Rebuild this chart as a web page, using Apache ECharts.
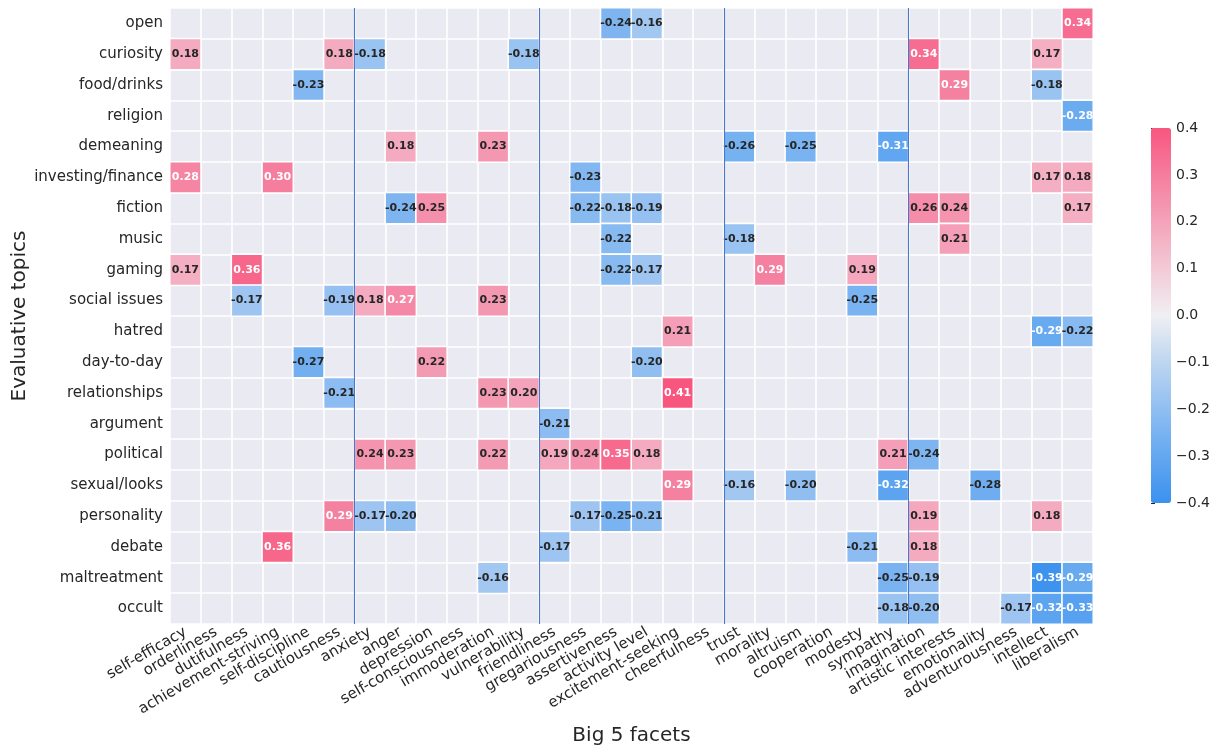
<!DOCTYPE html>
<html>
<head>
<meta charset="utf-8">
<script src="https://cdn.jsdelivr.net/npm/echarts@6/dist/echarts.min.js"></script>
<style>
html,body{margin:0;padding:0;background:#fff;}
#chart{width:1216px;height:747px;}
</style>
</head>
<body>
<div id="chart"></div>
<script>
// ---- categories ----
const facets = ['self-efficacy','orderliness','dutifulness','achievement-striving','self-discipline','cautiousness',
  'anxiety','anger','depression','self-consciousness','immoderation','vulnerability',
  'friendliness','gregariousness','assertiveness','activity level','excitement-seeking','cheerfulness',
  'trust','morality','altruism','cooperation','modesty','sympathy',
  'imagination','artistic interests','emotionality','adventurousness','intellect','liberalism'];
const topics = ['open','curiosity','food/drinks','religion','demeaning','investing/finance','fiction','music',
  'gaming','social issues','hatred','day-to-day','relationships','argument','political','sexual/looks',
  'personality','debate','maltreatment','occult'];
const colorbarTicks = [-0.4,-0.3,-0.2,-0.1,0,0.1,0.2,0.3,0.4];

// ---- values per topic (30 facets each, null = blank) ----
const _ = null;
const open          = [_,_,_,_,_,_,  _,_,_,_,_,_,  _,_,-0.24,-0.16,_,_,  _,_,_,_,_,_,  _,_,_,_,_,0.34];
const curiosity     = [0.18,_,_,_,_,0.18,  -0.18,_,_,_,_,-0.18,  _,_,_,_,_,_,  _,_,_,_,_,_,  0.34,_,_,_,0.17,_];
const foodDrinks    = [_,_,_,_,-0.23,_,  _,_,_,_,_,_,  _,_,_,_,_,_,  _,_,_,_,_,_,  _,0.29,_,_,-0.18,_];
const religion      = [_,_,_,_,_,_,  _,_,_,_,_,_,  _,_,_,_,_,_,  _,_,_,_,_,_,  _,_,_,_,_,-0.284];
const demeaning     = [_,_,_,_,_,_,  _,0.18,_,_,0.23,_,  _,_,_,_,_,_,  -0.26,_,-0.25,_,_,-0.31,  _,_,_,_,_,_];
const investing     = [0.28,_,_,0.30,_,_,  _,_,_,_,_,_,  _,-0.23,_,_,_,_,  _,_,_,_,_,_,  _,_,_,_,0.17,0.18];
const fiction       = [_,_,_,_,_,_,  _,-0.24,0.25,_,_,_,  _,-0.22,-0.18,-0.19,_,_,  _,_,_,_,_,_,  0.26,0.24,_,_,_,0.17];
const music         = [_,_,_,_,_,_,  _,_,_,_,_,_,  _,_,-0.22,_,_,_,  -0.18,_,_,_,_,_,  _,0.21,_,_,_,_];
const gaming        = [0.17,_,0.36,_,_,_,  _,_,_,_,_,_,  _,_,-0.22,-0.17,_,_,  _,0.29,_,_,0.19,_,  _,_,_,_,_,_];
const socialIssues  = [_,_,-0.17,_,_,-0.19,  0.18,0.27,_,_,0.23,_,  _,_,_,_,_,_,  _,_,_,_,-0.25,_,  _,_,_,_,_,_];
const hatred        = [_,_,_,_,_,_,  _,_,_,_,_,_,  _,_,_,_,0.21,_,  _,_,_,_,_,_,  _,_,_,_,-0.29,-0.22];
const dayToDay      = [_,_,_,_,-0.27,_,  _,_,0.22,_,_,_,  _,_,_,-0.20,_,_,  _,_,_,_,_,_,  _,_,_,_,_,_];
const relationships = [_,_,_,_,_,-0.21,  _,_,_,_,0.23,0.20,  _,_,_,_,0.41,_,  _,_,_,_,_,_,  _,_,_,_,_,_];
const argument      = [_,_,_,_,_,_,  _,_,_,_,_,_,  -0.21,_,_,_,_,_,  _,_,_,_,_,_,  _,_,_,_,_,_];
const political     = [_,_,_,_,_,_,  0.24,0.23,_,_,0.22,_,  0.19,0.24,0.35,0.18,_,_,  _,_,_,_,_,0.21,  -0.24,_,_,_,_,_];
const sexualLooks   = [_,_,_,_,_,_,  _,_,_,_,_,_,  _,_,_,_,0.29,_,  -0.16,_,-0.20,_,_,-0.32,  _,_,-0.276,_,_,_];
const personality   = [_,_,_,_,_,0.29,  -0.17,-0.20,_,_,_,_,  _,-0.17,-0.25,-0.21,_,_,  _,_,_,_,_,_,  0.19,_,_,_,0.18,_];
const debate        = [_,_,_,0.36,_,_,  _,_,_,_,_,_,  -0.17,_,_,_,_,_,  _,_,_,_,-0.21,_,  0.18,_,_,_,_,_];
const maltreatment  = [_,_,_,_,_,_,  _,_,_,_,-0.16,_,  _,_,_,_,_,_,  _,_,_,_,_,-0.25,  -0.19,_,_,_,-0.39,-0.29];
const occult        = [_,_,_,_,_,_,  _,_,_,_,_,_,  _,_,_,_,_,_,  _,_,_,_,_,-0.18,  -0.20,_,_,-0.17,-0.32,-0.33];

const rows = [open,curiosity,foodDrinks,religion,demeaning,investing,fiction,music,gaming,socialIssues,
  hatred,dayToDay,relationships,argument,political,sexualLooks,personality,debate,maltreatment,occult];
const groupBoundaries = [6,12,18,24];

// ---- build heatmap data ----
const heatData = [];
rows.forEach((row, r) => {
  row.forEach((v, c) => {
    if (v === null) return;
    const light = (v >= 0.265 || v <= -0.28);
    heatData.push({ value: [c, r, v], label: { color: light ? '#ffffff' : '#262626' } });
  });
});

const FONT = 'DejaVu Sans';
const TXT = '#262626';
const chart = echarts.init(document.getElementById('chart'), null, { renderer: 'canvas' });
chart.setOption({
  backgroundColor: '#ffffff',
  animation: false,
  textStyle: { fontFamily: FONT },
  grid: [
    { left: 170, top: 8, width: 923, height: 616, show: true, backgroundColor: '#eaeaf2', borderWidth: 0,
      containLabel: false, outerBoundsMode: 'none' },
    { left: 1151, top: 128, width: 20, height: 375, show: false, containLabel: false, outerBoundsMode: 'none' }
  ],
  xAxis: [
    {
      type: 'category', data: facets, gridIndex: 0,
      axisLine: { show: false }, axisTick: { show: false },
      axisLabel: { interval: 0, rotate: 30, fontSize: 15, color: TXT, fontFamily: FONT, margin: 7 },
      splitLine: { show: true, interval: 0, lineStyle: { color: '#ffffff', width: 1.6 } },
      name: 'Big 5 facets', nameLocation: 'middle', nameGap: 102, nameMoveOverlap: false,
      nameTextStyle: { fontSize: 20, color: TXT, fontFamily: FONT }
    },
    { type: 'value', gridIndex: 0, min: 0, max: facets.length, show: false },
    { type: 'value', gridIndex: 1, min: 0, max: 1, show: false }
  ],
  yAxis: [
    {
      type: 'category', data: topics, inverse: true, gridIndex: 0,
      axisLine: { show: false }, axisTick: { show: false },
      axisLabel: { interval: 0, fontSize: 15, color: TXT, fontFamily: FONT, margin: 7 },
      splitLine: { show: true, interval: 0, lineStyle: { color: '#ffffff', width: 1.6 } },
      name: 'Evaluative topics', nameLocation: 'middle', nameGap: 140, nameMoveOverlap: false,
      nameTextStyle: { fontSize: 20, color: TXT, fontFamily: FONT }
    },
    {
      type: 'value', gridIndex: 1, min: -0.4, max: 0.4, interval: 0.1, position: 'right',
      axisLine: { show: false },
      axisTick: { show: true, length: 4, lineStyle: { color: TXT, width: 1 } },
      splitLine: { show: false },
      axisLabel: { fontSize: 14, color: TXT, fontFamily: FONT, margin: 5,
        formatter: v => (v < 0 ? '\u2212' : '') + Math.abs(v).toFixed(1) }
    }
  ],
  visualMap: {
    type: 'continuous', min: -0.4, max: 0.4, seriesIndex: 0, calculable: false,
    orient: 'vertical', left: 1151, top: 128, itemWidth: 20, itemHeight: 375, padding: 0,
    text: null, showLabel: false, hoverLink: false, indicatorSize: 0,
    inRange: { color: ['#3a91ef','#64a8f0','#90bef1','#bdd6f1','#f0eff2','#f3cad6','#f4a3ba','#f57d9d','#f8567f'] }
  },
  series: [
    {
      type: 'heatmap', xAxisIndex: 0, yAxisIndex: 0, data: heatData,
      itemStyle: { borderColor: '#ffffff', borderWidth: 1.6 },
      label: { show: true, fontSize: 11, fontWeight: 'bold', fontFamily: FONT,
        formatter: p => p.value[2].toFixed(2) },
      emphasis: { disabled: true }, silent: true
    },
    {
      type: 'scatter', xAxisIndex: 1, yAxisIndex: 0, data: [], symbolSize: 0, z: 5, silent: true,
      markLine: {
        silent: true, symbol: ['none','none'], label: { show: false },
        lineStyle: { color: '#4a78c8', width: 1.1, type: 'solid' },
        data: groupBoundaries.map(b => ({ xAxis: b }))
      }
    },
    { type: 'scatter', xAxisIndex: 2, yAxisIndex: 1, data: [], silent: true }
  ]
});
</script>
</body>
</html>
